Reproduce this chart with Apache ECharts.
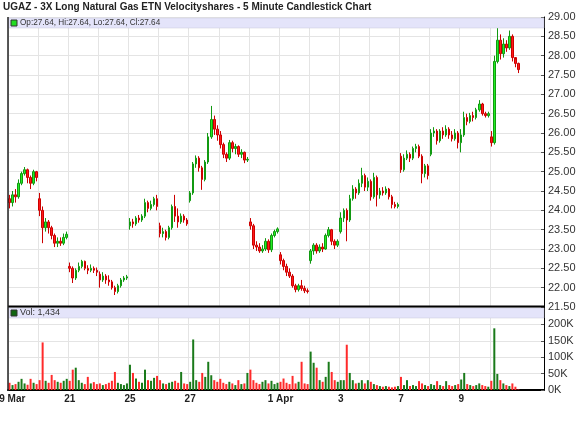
<!DOCTYPE html>
<html><head><meta charset="utf-8">
<script src="https://cdn.jsdelivr.net/npm/echarts@6/dist/echarts.min.js"></script>
<style>html,body{margin:0;padding:0;background:#fff}#c{width:580px;height:424px}</style>
</head><body><div id="c"></div>
<script>
// ---- DATA ----
const titleText = 'UGAZ - 3X Long Natural Gas ETN Velocityshares - 5 Minute Candlestick Chart';
const dayLabels = ['19 Mar','20','21','22','25','26','27','28','29','1 Apr','2','3','4','7','8','9','10'];
const shownLabels = ['19 Mar','21','25','27','1 Apr','3','7','9'];
const lastQuote = [27.64, 27.64, 27.64, 27.64]; // Op, Hi, Lo, Cl
const lastVolume = '1,434';
const priceTicks = [21.5, 29, 0.5];   // min, max, step
const volTicks = [0, 200, 50];        // thousands

// candles per trading day: [open, close, low, high]
const d0 = [[24.30,24.20,24.05,24.40],[24.20,24.40,24.10,24.50],[24.40,24.35,24.20,24.55],[24.35,24.70,24.30,24.80],[24.70,24.95,24.65,25.00],[24.95,25.05,24.90,25.12],[25.05,24.85,24.70,25.08],[24.85,24.70,24.55,24.90],[24.70,25.00,24.65,25.05],[25.00,24.85,24.75,25.02]];
const d1 = [[24.30,24.00,23.85,24.45],[24.00,23.55,23.15,24.10],[23.55,23.70,23.45,23.80],[23.70,23.55,23.40,23.75],[23.55,23.35,23.25,23.60],[23.35,23.15,23.05,23.40],[23.15,23.20,23.05,23.30],[23.20,23.15,23.08,23.30],[23.15,23.30,23.10,23.40],[23.30,23.38,23.25,23.45]];
const d2 = [[22.55,22.50,22.40,22.65],[22.50,22.25,22.12,22.55],[22.25,22.45,22.20,22.50],[22.45,22.55,22.40,22.65],[22.55,22.68,22.50,22.72],[22.68,22.50,22.45,22.70],[22.50,22.45,22.35,22.58],[22.45,22.50,22.40,22.60],[22.50,22.45,22.38,22.55],[22.45,22.40,22.30,22.52]];
const d3 = [[22.35,22.20,22.00,22.42],[22.20,22.30,22.15,22.40],[22.30,22.20,22.10,22.35],[22.20,22.15,22.05,22.32],[22.15,22.00,21.95,22.20],[22.00,21.90,21.81,22.05],[21.90,22.05,21.85,22.10],[22.05,22.20,22.00,22.25],[22.20,22.25,22.15,22.30],[22.25,22.28,22.20,22.33]];
const d4 = [[23.60,23.70,23.50,23.80],[23.70,23.65,23.55,23.78],[23.65,23.80,23.60,23.85],[23.80,23.75,23.68,23.88],[23.75,23.85,23.70,23.90],[23.85,24.20,23.80,24.30],[24.20,24.05,23.95,24.25],[24.05,24.15,24.00,24.25],[24.15,24.30,24.10,24.35],[24.30,24.10,24.00,24.40]];
const d5 = [[23.60,23.40,23.30,23.68],[23.40,23.45,23.30,23.55],[23.45,23.30,23.22,23.50],[23.30,23.55,23.25,23.60],[23.55,24.10,23.50,24.15],[24.10,23.85,23.70,24.40],[23.85,23.70,23.55,24.05],[23.70,23.85,23.65,23.92],[23.85,23.75,23.68,23.90],[23.75,23.65,23.60,23.80]];
const d6 = [[24.25,24.45,24.20,24.50],[24.45,25.20,24.40,25.25],[25.20,25.35,25.10,25.42],[25.35,25.10,25.00,25.40],[25.10,24.80,24.53,25.15],[24.80,25.25,24.75,25.30],[25.25,25.90,25.20,26.00],[25.90,26.35,25.85,26.70],[26.35,26.10,25.95,26.45],[26.10,25.95,25.80,26.20]];
const d7 = [[25.95,25.70,25.60,26.05],[25.70,25.45,25.35,25.75],[25.45,25.35,25.25,25.50],[25.35,25.75,25.30,25.82],[25.75,25.60,25.50,25.80],[25.60,25.65,25.45,25.72],[25.65,25.45,25.38,25.68],[25.45,25.50,25.35,25.58],[25.50,25.30,25.22,25.52],[25.30,25.32,25.25,25.38]];
const d8 = [[23.70,23.60,23.50,23.80],[23.60,23.10,23.00,23.65],[23.10,23.05,22.95,23.20],[23.05,22.95,22.90,23.15],[22.95,23.00,22.90,23.10],[23.00,23.20,22.95,23.28],[23.20,22.98,22.90,23.25],[22.98,23.35,22.92,23.40],[23.35,23.45,23.30,23.50],[23.45,23.52,23.40,23.56]];
const d9 = [[22.85,22.70,22.60,22.92],[22.70,22.55,22.45,22.75],[22.55,22.40,22.30,22.62],[22.40,22.30,22.25,22.50],[22.30,22.05,22.00,22.35],[22.05,21.95,21.88,22.10],[21.95,22.05,21.90,22.10],[22.05,21.98,21.92,22.20],[21.98,21.92,21.86,22.05],[21.92,21.90,21.85,21.98]];
const d10 = [[22.70,22.95,22.62,23.00],[22.95,23.10,22.85,23.15],[23.10,22.95,22.88,23.15],[22.95,23.05,22.90,23.12],[23.05,23.00,22.92,23.15],[23.00,23.35,22.98,23.40],[23.35,23.50,23.30,23.57],[23.50,23.20,23.10,23.52],[23.20,23.10,23.00,23.25],[23.10,23.20,23.05,23.25]];
const d11 = [[23.45,23.80,23.40,23.95],[23.80,24.00,23.70,24.05],[24.00,23.75,23.20,24.05],[23.75,24.30,23.70,24.40],[24.30,24.55,24.25,24.65],[24.55,24.45,24.30,24.60],[24.45,24.70,24.40,24.80],[24.70,24.90,24.60,25.10],[24.90,24.60,24.50,24.95],[24.60,24.75,24.50,24.85]];
const d12 = [[24.75,24.35,24.25,24.80],[24.35,24.85,24.30,24.97],[24.85,24.40,24.10,24.90],[24.40,24.50,24.30,24.58],[24.50,24.45,24.38,24.60],[24.45,24.55,24.40,24.62],[24.55,24.35,24.28,24.58],[24.35,24.15,24.05,24.40],[24.15,24.10,24.05,24.22],[24.10,24.15,24.05,24.20]];
const d13 = [[25.40,25.05,24.97,25.48],[25.05,25.35,25.00,25.45],[25.35,25.45,25.30,25.55],[25.45,25.35,25.25,25.50],[25.35,25.60,25.30,25.65],[25.60,25.65,25.50,25.72],[25.65,25.40,25.35,25.70],[25.40,24.95,24.70,25.45],[24.95,25.15,24.85,25.20],[25.15,24.90,24.80,25.20]];
const d14 = [[25.45,26.00,25.40,26.10],[26.00,26.05,25.90,26.15],[26.05,25.80,25.70,26.10],[25.80,26.05,25.75,26.10],[26.05,25.95,25.85,26.15],[25.95,26.10,25.90,26.20],[26.10,25.95,25.85,26.15],[25.95,25.85,25.78,26.05],[25.85,26.00,25.80,26.10],[26.00,25.75,25.60,26.05]];
const d15 = [[25.75,25.95,25.50,26.10],[25.95,26.40,25.90,26.55],[26.40,26.30,26.20,26.50],[26.30,26.45,26.25,26.52],[26.45,26.40,26.30,26.55],[26.40,26.60,26.35,26.65],[26.60,26.75,26.55,26.85],[26.75,26.50,26.45,26.78],[26.50,26.45,26.40,26.55],[26.45,26.50,26.40,26.55]];
const d16 = [[25.90,25.75,25.65,26.05],[25.75,27.85,25.70,28.00],[27.85,28.40,27.80,28.80],[28.40,28.05,27.90,28.55],[28.05,28.30,27.95,28.45],[28.30,28.20,28.10,28.40],[28.20,28.50,28.15,28.65],[28.50,27.95,27.85,28.55],[27.95,27.80,27.70,27.90],[27.80,27.64,27.55,27.82]];

// volume per candle (thousands)
const v0 = [22,15,18,25,34,20,16,34,22,18];
const v1 = [30,145,28,22,46,30,25,22,28,34];
const v2 = [28,62,68,30,22,18,40,20,24,18];
const v3 = [20,15,18,22,28,55,22,18,15,20];
const v4 = [77,52,35,25,22,62,30,28,37,43];
const v5 = [30,20,18,22,25,28,22,55,20,18];
const v6 = [25,154,30,25,52,40,86,45,30,25];
const v7 = [34,22,18,25,20,15,30,18,20,52];
const v8 = [62,30,22,18,25,30,20,28,18,22];
const v9 = [25,35,22,18,43,20,25,86,20,18];
const v10 = [117,83,68,30,25,40,86,55,30,25];
const v11 = [30,30,138,52,30,20,22,30,20,30];
const v12 = [25,18,15,12,10,12,10,8,10,12];
const v13 = [40,15,30,12,15,12,27,20,15,12];
const v14 = [18,15,27,15,12,27,15,12,15,18];
const v15 = [32,52,18,15,12,15,20,15,12,10];
const v16 = [28,188,49,30,20,15,12,20,10,1.434];

// ---- BUILD ----
const dayCandles = [d0,d1,d2,d3,d4,d5,d6,d7,d8,d9,d10,d11,d12,d13,d14,d15,d16];
const dayVols = [v0,v1,v2,v3,v4,v5,v6,v7,v8,v9,v10,v11,v12,v13,v14,v15,v16];
const PER = 10, EXTRA = 8;
const cats = [], ohlc = [], vols = [];
dayCandles.forEach((day, k) => {
  day.forEach((c, j) => {
    cats.push(dayLabels[k] + '|' + j);
    ohlc.push([c[0], c[1], c[2], c[3]]);
    vols.push({value: dayVols[k][j], up: c[1] >= c[0]});
  });
});
for (let i = 0; i < EXTRA; i++) cats.push('|e' + i);
const nData = ohlc.length;
const isDayStart = i => i % PER === 0 && i < nData;

const volData = vols.map(v => ({value: v.value, itemStyle: {color: v.up ? '#1a7a1a' : '#ff2a2a'}}));

const chart = echarts.init(document.getElementById('c'), null, {renderer: 'canvas'});
const FONT = 'Liberation Sans, Arial, sans-serif';
const L = 8, R = 36;
const lastClose = dayCandles[dayCandles.length-1].slice(-1)[0][1];

chart.setOption({
  animation: false,
  backgroundColor: '#fff',
  grid: [
    {left: L, right: R, top: 17, height: 290, containLabel: false, outerBoundsMode: 'none'},
    {left: L, right: R, top: 307, height: 83, containLabel: false, outerBoundsMode: 'none'}
  ],
  xAxis: [
    {type: 'category', gridIndex: 0, data: cats, boundaryGap: true,
     axisLine: {show: false}, axisTick: {show: false}, axisLabel: {show: false},
     splitLine: {show: true, interval: (i) => isDayStart(i), lineStyle: {color: '#e4e4e4', width: 1}}},
    {type: 'category', gridIndex: 1, data: cats, boundaryGap: true,
     axisLine: {show: true, lineStyle: {color: '#000', width: 2}}, axisTick: {show: false},
     axisLabel: {show: true, interval: (i) => isDayStart(i) && shownLabels.includes(cats[i].split('|')[0]),
       formatter: v => v.split('|')[0], fontFamily: FONT, fontSize: 10, fontWeight: 'bold', color: '#222', margin: 4,
       hideOverlap: false},
     splitLine: {show: true, interval: (i) => isDayStart(i), lineStyle: {color: '#e4e4e4', width: 1}}}
  ],
  yAxis: [
    {type: 'value', gridIndex: 0, position: 'right', min: priceTicks[0], max: priceTicks[1], interval: priceTicks[2],
     axisLine: {show: true, lineStyle: {color: '#000', width: 1}},
     axisTick: {show: true, length: 3, inside: true, lineStyle: {color: '#555'}},
     axisLabel: {formatter: v => v.toFixed(2), fontFamily: FONT, fontSize: 11, color: '#333', margin: 4},
     splitLine: {show: true, lineStyle: {color: '#e4e4e4'}}},
    {type: 'value', gridIndex: 1, position: 'right', min: 0, max: 253, interval: volTicks[2],
     axisLine: {show: true, lineStyle: {color: '#000', width: 1}},
     axisTick: {show: true, length: 3, inside: true, lineStyle: {color: '#555'}},
     axisLabel: {formatter: v => v > volTicks[1] ? '' : v + 'K', fontFamily: FONT, fontSize: 11, color: '#333', margin: 4},
     splitLine: {show: true, lineStyle: {color: '#e4e4e4'}}}
  ],
  series: [
    {type: 'candlestick', xAxisIndex: 0, yAxisIndex: 0, data: ohlc, barWidth: 2,
     itemStyle: {color: '#22ee22', color0: '#ff1a1a', borderColor: '#119911', borderColor0: '#cc0000', borderWidth: 1},
     markLine: {silent: true, symbol: 'none', data: [{yAxis: lastClose}], lineStyle: {width: 0, opacity: 0},
       label: {show: true, position: 'end', distance: 2, formatter: () => lastQuote[3].toFixed(2),
         backgroundColor: '#000', color: '#fff', fontFamily: FONT, fontSize: 11, padding: [1, 2, 0, 2]}}},
    {type: 'bar', xAxisIndex: 1, yAxisIndex: 1, data: volData, barWidth: 2}
  ],
  graphic: [
    {type: 'text', left: 3, top: 2, style: {text: titleText, font: 'bold 10px ' + FONT, fill: '#222'}},
    {type: 'rect', shape: {x: L, y: 18, width: 580 - L - R, height: 10}, style: {fill: '#e4e4fa', stroke: '#c8c8d8', lineWidth: 0.5}, z: 10},
    {type: 'rect', shape: {x: 11, y: 20, width: 6, height: 6}, style: {fill: '#22dd22', stroke: '#333', lineWidth: 1}, z: 11},
    {type: 'text', x: 20, y: 19, style: {text: 'Op:' + lastQuote[0].toFixed(2) + ', Hi:' + lastQuote[1].toFixed(2) + ', Lo:' + lastQuote[2].toFixed(2) + ', Cl:' + lastQuote[3].toFixed(2), font: '8.2px ' + FONT, fill: '#333'}, z: 11},
    {type: 'line', shape: {x1: L, y1: 306.5, x2: 580 - R, y2: 306.5}, style: {stroke: '#000', lineWidth: 2}, z: 12},
    {type: 'rect', shape: {x: L, y: 308, width: 580 - L - R, height: 10}, style: {fill: '#e4e4fa', stroke: '#c8c8d8', lineWidth: 0.5}, z: 10},
    {type: 'rect', shape: {x: 11, y: 310, width: 6, height: 6}, style: {fill: '#116611', stroke: '#333', lineWidth: 1}, z: 11},
    {type: 'text', x: 20, y: 308.5, style: {text: 'Vol: ' + lastVolume, font: '9px ' + FONT, fill: '#333'}, z: 11},
    {type: 'line', shape: {x1: L, y1: 17, x2: L, y2: 391}, style: {stroke: '#222', lineWidth: 1.5}, z: 12}
  ]
});
</script></body></html>
